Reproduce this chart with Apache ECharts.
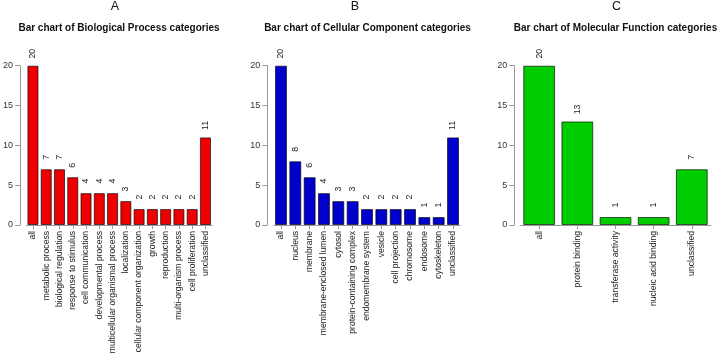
<!DOCTYPE html>
<html>
<head>
<meta charset="utf-8">
<script src="https://cdn.jsdelivr.net/npm/echarts@6/dist/echarts.min.js"></script>
<style>
html,body{margin:0;padding:0;background:#fff;}
#c{width:719px;height:358px;}
</style>
</head>
<body>
<div id="c"></div>
<script>
const bpCategories = ["all","metabolic process","biological regulation","response to stimulus","cell communication","developmental process","multicellular organismal process","localization","cellular component organization","growth","reproduction","multi-organism process","cell proliferation","unclassified"];
const bpValues = [20,7,7,6,4,4,4,3,2,2,2,2,2,11];
const ccCategories = ["all","nucleus","membrane","membrane-enclosed lumen","cytosol","protein-containing complex","endomembrane system","vesicle","cell projection","chromosome","endosome","cytoskeleton","unclassified"];
const ccValues = [20,8,6,4,3,3,2,2,2,2,1,1,11];
const mfCategories = ["all","protein binding","transferase activity","nucleic acid binding","unclassified"];
const mfValues = [20,13,1,1,7];
const yTicks = [0,5,10,15,20];
const panelLetters = ["A","B","C"];
const panelTitles = ["Bar chart of Biological Process categories","Bar chart of Cellular Component categories","Bar chart of Molecular Function categories"];

const FONT = "Liberation Sans, Arial, sans-serif";
const panels = [
  {cats: bpCategories, vals: bpValues, color: "#EE0000", left: 25.6, width: 186.5, yOff: 6.3, tc: 119, lc: 115},
  {cats: ccCategories, vals: ccValues, color: "#0000CD", left: 273.8, width: 186.4, yOff: 6.5, tc: 367.5, lc: 355},
  {cats: mfCategories, vals: mfValues, color: "#00CD00", left: 520.1, width: 190.8, yOff: 5.8, tc: 615.5, lc: 616.5}
];

const grid = [], xAxis = [], yAxis = [], series = [], title = [];
panels.forEach((p, i) => {
  grid.push({left: p.left, width: p.width, top: 65.7, height: 159.3});
  xAxis.push({
    type: "category", gridIndex: i, data: p.cats,
    axisLine: {show: true, lineStyle: {color: "#999", width: 1}},
    axisTick: {show: true, alignWithLabel: true, length: 4, lineStyle: {color: "#999"}},
    axisLabel: {interval: 0, rotate: 90, margin: 6, fontSize: 8.6, color: "#222", fontFamily: FONT}
  });
  yAxis.push({
    type: "value", gridIndex: i, min: 0, max: 20, interval: 5, offset: p.yOff,
    splitLine: {show: false},
    axisLine: {show: true, lineStyle: {color: "#999", width: 1}},
    axisTick: {show: true, length: 5, lineStyle: {color: "#999"}},
    axisLabel: {margin: 7, fontSize: 9, color: "#333", fontFamily: FONT,
      formatter: v => yTicks.includes(v) ? String(v) : ""}
  });
  series.push({
    type: "bar", xAxisIndex: i, yAxisIndex: i, data: p.vals,
    barCategoryGap: "16.67%",
    itemStyle: {color: p.color, borderColor: "rgba(0,0,0,0.65)", borderWidth: 1},
    label: {show: true, position: "top", distance: 12, rotate: 90, align: "center", verticalAlign: "middle",
      fontSize: 8.8, color: "#222", fontFamily: FONT},
    silent: true, animation: false
  });
  title.push({text: panelTitles[i], left: p.tc, top: 23, textAlign: "center", padding: 0,
    textStyle: {fontSize: 10, fontWeight: "bold", color: "#111", fontFamily: FONT}});
  title.push({text: panelLetters[i], left: p.lc, top: 0.5, textAlign: "center", padding: 0,
    textStyle: {fontSize: 12.5, fontWeight: "normal", color: "#111", fontFamily: FONT}});
});

const chart = echarts.init(document.getElementById("c"), null, {renderer: "canvas"});
chart.setOption({animation: false, title, grid, xAxis, yAxis, series});
</script>
</body>
</html>
